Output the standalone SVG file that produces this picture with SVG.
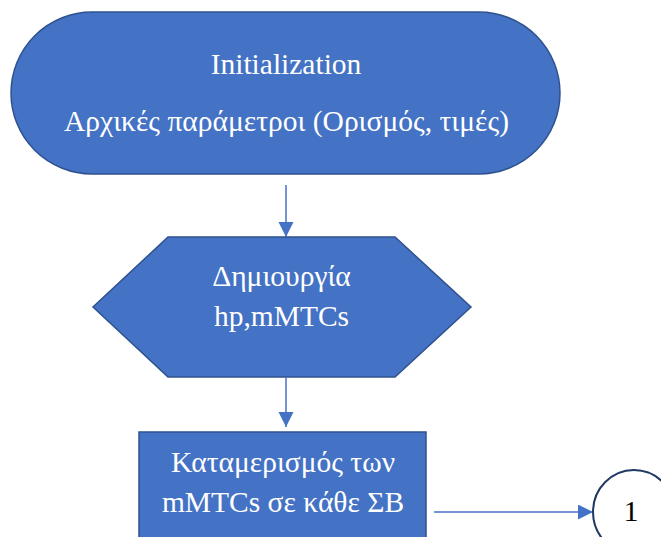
<svg xmlns="http://www.w3.org/2000/svg" width="661" height="537" viewBox="0 0 661 537">
  <style>
    .shape { fill: #4472C4; stroke: #2F528F; stroke-width: 1.5; }
    .lbl { font-family: "Liberation Serif", "Times New Roman", serif; font-size: 29.5px; fill: #FFFFFF; text-anchor: middle; }
    .conn { stroke: #4472C4; stroke-width: 1.5; fill: none; }
    .circ { fill: #FFFFFF; stroke: #1F3864; stroke-width: 2; }
    .num { font-family: "Liberation Serif", "Times New Roman", serif; font-size: 30px; fill: #000000; text-anchor: middle; }
  </style>
  <defs>
    <marker id="arrow" markerUnits="userSpaceOnUse" markerWidth="16" markerHeight="16" refX="15" refY="7.5" orient="auto">
      <path d="M0,0 L15,7.5 L0,15 Z" fill="#4472C4"/>
    </marker>
  </defs>
  <rect width="661" height="537" fill="#FFFFFF"/>

  <g id="connectors">
    <line class="conn" x1="286" y1="185" x2="286" y2="237" marker-end="url(#arrow)"/>
    <line class="conn" x1="286" y1="378" x2="286" y2="427" marker-end="url(#arrow)"/>
    <line class="conn" x1="434" y1="512" x2="593" y2="512" marker-end="url(#arrow)"/>
  </g>

  <g id="init">
    <rect class="shape" x="11" y="12" width="549" height="162" rx="81" ry="81"/>
    <text class="lbl" x="286" y="74">Initialization</text>
    <text class="lbl" x="286.5" y="131">Αρχικές παράμετροι (Ορισμός, τιμές)</text>
  </g>

  <g id="create">
    <polygon class="shape" points="168,237 395,237 471,307 395,377 168,377 93,307"/>
    <text class="lbl" x="281.5" y="286">Δημιουργία</text>
    <text class="lbl" x="281.5" y="326">hp,mMTCs</text>
  </g>

  <g id="allocate">
    <rect class="shape" x="139" y="432" width="287" height="130"/>
    <text class="lbl" x="283" y="472">Καταμερισμός των</text>
    <text class="lbl" x="283" y="512">mMTCs σε κάθε ΣΒ</text>
  </g>

  <g id="connector1">
    <ellipse class="circ" cx="634" cy="512" rx="41" ry="42"/>
    <text class="num" x="631" y="521">1</text>
  </g>
</svg>
